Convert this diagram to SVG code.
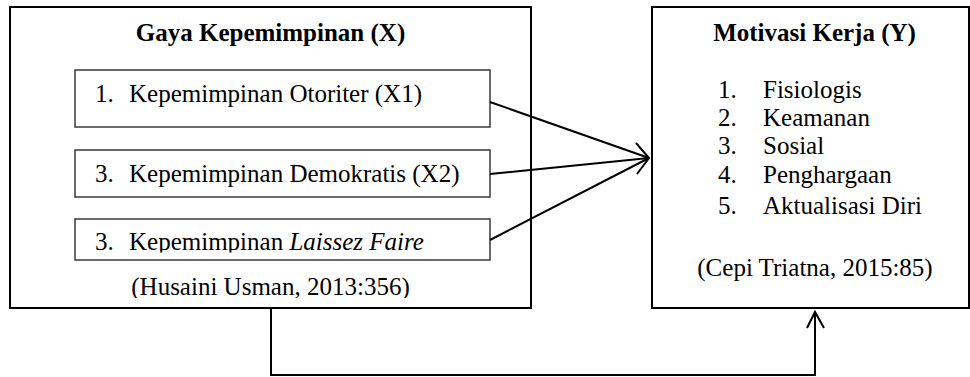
<svg xmlns="http://www.w3.org/2000/svg" width="970" height="377" viewBox="0 0 970 377">
<style>
text{font-family:"Liberation Serif","Times New Roman",serif;font-size:25px;fill:#000}
.b{font-weight:bold}
.outer{fill:#fff;stroke:#000;stroke-width:2}
.inner{fill:#fff;stroke:#3a3a3a;stroke-width:1.5}
.conn{fill:none;stroke:#000;stroke-width:2}
</style>
<defs>
<clipPath id="c3"><rect x="75" y="219" width="415" height="33.5"/></clipPath>
<clipPath id="cx"><rect x="10" y="7" width="521" height="291"/></clipPath>
</defs>
<g id="nodeX">
<rect class="outer" x="10" y="7" width="521" height="301"/>
<text class="b" x="270.5" y="41" text-anchor="middle">Gaya Kepemimpinan (X)</text>
<text x="270.5" y="295" text-anchor="middle" clip-path="url(#cx)">(Husaini Usman, 2013:356)</text>
</g>
<g id="nodeX1">
<rect class="inner" x="75" y="70" width="415" height="57"/>
<text x="95" y="102">1.</text>
<text x="129" y="102">Kepemimpinan Otoriter (X1)</text>
</g>
<g id="nodeX2">
<rect class="inner" x="75" y="150" width="415" height="47"/>
<text x="95" y="182">3.</text>
<text x="129" y="182">Kepemimpinan Demokratis (X2)</text>
</g>
<g id="nodeX3">
<rect class="inner" x="75" y="219" width="415" height="41"/>
<g clip-path="url(#c3)">
<text x="95" y="250">3.</text>
<text x="129" y="250">Kepemimpinan <tspan font-style="italic">Laissez Faire</tspan></text>
</g>
</g>
<g id="nodeY">
<rect class="outer" x="652" y="7" width="317" height="301"/>
<text class="b" x="814.5" y="41" text-anchor="middle">Motivasi Kerja (Y)</text>
<text x="718" y="98">1.</text><text x="763" y="98">Fisiologis</text>
<text x="718" y="126">2.</text><text x="763" y="126">Keamanan</text>
<text x="718" y="154">3.</text><text x="763" y="154">Sosial</text>
<text x="718" y="183">4.</text><text x="763" y="183">Penghargaan</text>
<text x="718" y="214">5.</text><text x="763" y="214">Aktualisasi Diri</text>
<text x="815" y="276" text-anchor="middle">(Cepi Triatna, 2015:85)</text>
</g>
<g id="connectors">
<line class="conn" x1="490" y1="102" x2="649" y2="158"/>
<line class="conn" x1="490" y1="174" x2="649" y2="158"/>
<line class="conn" x1="490" y1="240" x2="649" y2="158"/>
<path class="conn" d="M636,143 L649,158 L637,174"/>
<path class="conn" d="M271,308 V375 H815 V312"/>
<path class="conn" d="M807,328 L815,312 L824,328"/>
</g>
</svg>
